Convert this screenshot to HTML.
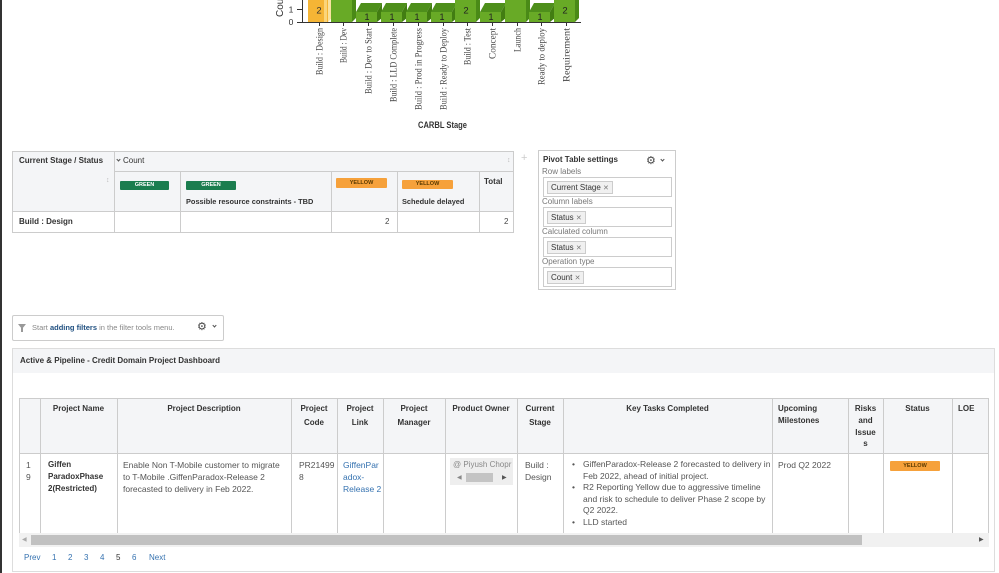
<!DOCTYPE html>
<html><head><meta charset="utf-8">
<style>
*{margin:0;padding:0;box-sizing:border-box}
html,body{width:999px;height:573px;overflow:hidden;background:#fff}
body{position:relative;font-family:"Liberation Sans",Arial,sans-serif;color:#333}
.a{position:absolute}
.t{position:absolute;white-space:nowrap;font-size:8px;line-height:10px}
.b{font-weight:bold}
.hl{position:absolute;height:1px;background:#ccc}
.vl{position:absolute;width:1px;background:#ccc}
.badge{position:absolute;font-size:5.5px;font-weight:bold;text-align:center;line-height:9px;border-radius:1px;font-family:"Liberation Sans",sans-serif}
.g{background:#1b7d4f;color:#fff}
.y{background:#f6a13b;color:#5a3a00}
.hd{position:absolute;font-size:8px;font-weight:bold;color:#333;text-align:center;line-height:13px;top:402px}
.bd{position:absolute;font-size:8.5px;color:#555;line-height:12px;top:459px;white-space:nowrap}
.chev{position:absolute;width:4px;height:4px;border-right:1px solid #555;border-bottom:1px solid #555;transform:rotate(45deg)}
.lbl{position:absolute;font-size:8px;color:#777;line-height:10px;white-space:nowrap}
.inp{position:absolute;left:543px;width:129px;height:20px;border:1px solid #ccc;background:#fff}
.tag{position:absolute;left:3px;top:3px;height:13px;border:1px solid #ccc;background:#f0f0f0;font-size:8px;line-height:11px;padding:0 3px;color:#333;white-space:nowrap}
.tag span{color:#777;font-size:7px}
.pg{position:absolute;top:553px;font-size:8px;line-height:10px;color:#3572b0}
</style></head><body>

<div class="a" style="left:0;top:0;width:2px;height:573px;background:#333"></div>

<svg class="a" style="left:0;top:0" width="999" height="140" xmlns="http://www.w3.org/2000/svg">
  <text transform="translate(283,17) rotate(-90)" font-family="Liberation Sans, sans-serif" font-size="10" fill="#333">Count</text>
  <text x="291" y="12.5" text-anchor="middle" font-family="Liberation Sans, sans-serif" font-size="8.5" fill="#333">1</text>
  <text x="291" y="25" text-anchor="middle" font-family="Liberation Sans, sans-serif" font-size="8.5" fill="#333">0</text>
  <line x1="297" y1="9.5" x2="302" y2="9.5" stroke="#333" stroke-width="1"/>
  <line x1="297" y1="22.5" x2="302" y2="22.5" stroke="#333" stroke-width="1"/>

  <rect x="308" y="0" width="20" height="22" fill="#f5b535"/>
  <rect x="324" y="0" width="3" height="22" fill="#fbd57a"/>
  <polygon points="328,0 331,0 331,19 328,22" fill="#f9e2a0"/>
  <text x="319" y="13.5" text-anchor="middle" font-family="Liberation Sans, sans-serif" font-size="9.5" fill="#333">2</text>
  <rect x="331" y="0" width="21" height="22" fill="#68aa26"/>
  <polygon points="352,0 356,0 356,18 352,22" fill="#4a8a17"/>
  <rect x="356" y="12" width="21" height="10" fill="#68aa26"/>
  <polygon points="356,12 377,12 382,3 361,3" fill="#4e8f1b"/>
  <polygon points="377,12 382,3 382,18 377,22" fill="#427d12"/>
  <text x="367" y="20" text-anchor="middle" font-family="Liberation Sans, sans-serif" font-size="9" fill="#222">1</text>
  <rect x="381" y="12" width="21" height="10" fill="#68aa26"/>
  <polygon points="381,12 402,12 407,3 386,3" fill="#4e8f1b"/>
  <polygon points="402,12 407,3 407,18 402,22" fill="#427d12"/>
  <text x="392" y="20" text-anchor="middle" font-family="Liberation Sans, sans-serif" font-size="9" fill="#222">1</text>
  <rect x="406" y="12" width="21" height="10" fill="#68aa26"/>
  <polygon points="406,12 427,12 432,3 411,3" fill="#4e8f1b"/>
  <polygon points="427,12 432,3 432,18 427,22" fill="#427d12"/>
  <text x="417" y="20" text-anchor="middle" font-family="Liberation Sans, sans-serif" font-size="9" fill="#222">1</text>
  <rect x="431" y="12" width="21" height="10" fill="#68aa26"/>
  <polygon points="431,12 452,12 457,3 436,3" fill="#4e8f1b"/>
  <polygon points="452,12 457,3 457,18 452,22" fill="#427d12"/>
  <text x="442" y="20" text-anchor="middle" font-family="Liberation Sans, sans-serif" font-size="9" fill="#222">1</text>
  <rect x="455" y="0" width="21" height="22" fill="#68aa26"/>
  <polygon points="476,0 480,0 480,18 476,22" fill="#4a8a17"/>
  <text x="466" y="13.5" text-anchor="middle" font-family="Liberation Sans, sans-serif" font-size="9.5" fill="#222">2</text>
  <rect x="480" y="12" width="21" height="10" fill="#68aa26"/>
  <polygon points="480,12 501,12 506,3 485,3" fill="#4e8f1b"/>
  <polygon points="501,12 506,3 506,18 501,22" fill="#427d12"/>
  <text x="491" y="20" text-anchor="middle" font-family="Liberation Sans, sans-serif" font-size="9" fill="#222">1</text>
  <rect x="505" y="0" width="21" height="22" fill="#68aa26"/>
  <polygon points="526,0 530,0 530,18 526,22" fill="#4a8a17"/>
  <rect x="529" y="12" width="21" height="10" fill="#68aa26"/>
  <polygon points="529,12 550,12 555,3 534,3" fill="#4e8f1b"/>
  <polygon points="550,12 555,3 555,18 550,22" fill="#427d12"/>
  <text x="540" y="20" text-anchor="middle" font-family="Liberation Sans, sans-serif" font-size="9" fill="#222">1</text>
  <rect x="554" y="0" width="21" height="22" fill="#68aa26"/>
  <polygon points="575,0 579,0 579,18 575,22" fill="#4a8a17"/>
  <text x="565" y="13.5" text-anchor="middle" font-family="Liberation Sans, sans-serif" font-size="9.5" fill="#222">2</text>

  <line x1="302.5" y1="0" x2="302.5" y2="23" stroke="#333" stroke-width="1"/>
  <line x1="302" y1="22.5" x2="581" y2="22.5" stroke="#333" stroke-width="1"/>
  <g stroke="#333" stroke-width="1">
    <line x1="319.5" y1="22" x2="319.5" y2="26"/>
    <line x1="343.5" y1="22" x2="343.5" y2="26"/>
    <line x1="368.5" y1="22" x2="368.5" y2="26"/>
    <line x1="393.5" y1="22" x2="393.5" y2="26"/>
    <line x1="418.5" y1="22" x2="418.5" y2="26"/>
    <line x1="443.5" y1="22" x2="443.5" y2="26"/>
    <line x1="467.5" y1="22" x2="467.5" y2="26"/>
    <line x1="492.5" y1="22" x2="492.5" y2="26"/>
    <line x1="517.5" y1="22" x2="517.5" y2="26"/>
    <line x1="541.5" y1="22" x2="541.5" y2="26"/>
    <line x1="566.5" y1="22" x2="566.5" y2="26"/>
  </g>
  <g font-family="Liberation Serif, serif" font-size="9" fill="#444" text-anchor="end">
    <text transform="translate(322.5,28) rotate(-90)" textLength="47" lengthAdjust="spacingAndGlyphs">Build : Design</text>
    <text transform="translate(346.5,28) rotate(-90)" textLength="35" lengthAdjust="spacingAndGlyphs">Build : Dev</text>
    <text transform="translate(371.5,28) rotate(-90)" textLength="66" lengthAdjust="spacingAndGlyphs">Build : Dev to Start</text>
    <text transform="translate(396.5,28) rotate(-90)" textLength="74" lengthAdjust="spacingAndGlyphs">Build : LLD Complete</text>
    <text transform="translate(421.5,28) rotate(-90)" textLength="82" lengthAdjust="spacingAndGlyphs">Build : Prod in Progress</text>
    <text transform="translate(446.5,28) rotate(-90)" textLength="82" lengthAdjust="spacingAndGlyphs">Build : Ready to Deploy</text>
    <text transform="translate(470.5,28) rotate(-90)" textLength="37" lengthAdjust="spacingAndGlyphs">Build : Test</text>
    <text transform="translate(495.5,28) rotate(-90)" textLength="31" lengthAdjust="spacingAndGlyphs">Concept</text>
    <text transform="translate(520.5,28) rotate(-90)" textLength="24" lengthAdjust="spacingAndGlyphs">Launch</text>
    <text transform="translate(544.5,28) rotate(-90)" textLength="57" lengthAdjust="spacingAndGlyphs">Ready to deploy</text>
    <text transform="translate(569.5,28) rotate(-90)" textLength="54" lengthAdjust="spacingAndGlyphs">Requirement</text>
  </g>
  <text x="418" y="128" font-family="Liberation Sans, sans-serif" font-size="9" font-weight="bold" fill="#333" textLength="49" lengthAdjust="spacingAndGlyphs">CARBL Stage</text>
</svg>

<div class="a" style="left:12px;top:151px;width:502px;height:82px;border:1px solid #ccc;background:#fff"></div>
<div class="a" style="left:13px;top:152px;width:500px;height:59px;background:#f4f5f7"></div>
<div class="hl" style="left:114px;top:171px;width:399px"></div>
<div class="hl" style="left:13px;top:211px;width:500px"></div>
<div class="vl" style="left:114px;top:152px;height:80px"></div>
<div class="vl" style="left:180px;top:171px;height:61px"></div>
<div class="vl" style="left:331px;top:171px;height:61px"></div>
<div class="vl" style="left:397px;top:171px;height:61px"></div>
<div class="vl" style="left:479px;top:171px;height:61px"></div>

<div class="t b" style="left:19px;top:156px;color:#333">Current Stage / Status</div>
<div class="chev" style="left:117px;top:158px;width:3px;height:3px"></div>
<div class="t" style="left:123px;top:156px;color:#333">Count</div>
<div class="t" style="left:507px;top:156px;color:#bbb;font-size:7px">↕</div>
<div class="t" style="left:106px;top:176px;color:#bbb;font-size:7px">↕</div>
<div class="badge g" style="left:120px;top:181px;width:49px;height:9px;line-height:9px">GREEN</div>
<div class="badge g" style="left:186px;top:181px;width:50px;height:9px;line-height:9px">GREEN</div>
<div class="badge y" style="left:336px;top:178px;width:51px;height:10px;line-height:10px">YELLOW</div>
<div class="badge y" style="left:402px;top:180px;width:51px;height:9px;line-height:9px">YELLOW</div>
<div class="t b" style="left:186px;top:197px;font-size:7.4px">Possible resource constraints - TBD</div>
<div class="t b" style="left:402px;top:197px;font-size:7.4px">Schedule delayed</div>
<div class="t b" style="left:484px;top:177px">Total</div>
<div class="t b" style="left:19px;top:217px">Build : Design</div>
<div class="t" style="left:385px;top:217px;color:#444">2</div>
<div class="t" style="left:504px;top:217px;color:#444">2</div>

<div class="t" style="left:521px;top:152px;color:#ccc;font-size:11px;line-height:12px">+</div>

<div class="a" style="left:538px;top:150px;width:138px;height:140px;border:1px solid #ccc;background:#fff"></div>
<div class="t b" style="left:543px;top:155px">Pivot Table settings</div>
<div class="t" style="left:646px;top:154px;font-size:11px;line-height:13px;color:#444;font-family:'DejaVu Sans',sans-serif">⚙</div>
<div class="chev" style="left:661px;top:158px;width:3px;height:3px"></div>
<div class="lbl" style="left:542px;top:167px">Row labels</div>
<div class="inp" style="top:177px"><div class="tag">Current Stage <span>✕</span></div></div>
<div class="lbl" style="left:542px;top:197px">Column labels</div>
<div class="inp" style="top:207px"><div class="tag">Status <span>✕</span></div></div>
<div class="lbl" style="left:542px;top:227px">Calculated column</div>
<div class="inp" style="top:237px"><div class="tag">Status <span>✕</span></div></div>
<div class="lbl" style="left:542px;top:257px">Operation type</div>
<div class="inp" style="top:267px"><div class="tag">Count <span>✕</span></div></div>

<div class="a" style="left:12px;top:315px;width:212px;height:26px;border:1px solid #ccc;border-radius:2px;background:#fff"></div>
<div class="a" style="left:18px;top:324px;width:0;height:0;border-left:4px solid transparent;border-right:4px solid transparent;border-top:5px solid #999"></div>
<div class="a" style="left:21px;top:328px;width:2px;height:4px;background:#999"></div>
<div class="t" style="left:32px;top:323px;font-size:7.5px;color:#888">Start <b style="color:#205081">adding filters</b> in the filter tools menu.</div>
<div class="t" style="left:197px;top:320px;font-size:11px;line-height:13px;color:#444;font-family:'DejaVu Sans',sans-serif">⚙</div>
<div class="chev" style="left:213px;top:324px;width:3px;height:3px"></div>

<div class="a" style="left:12px;top:348px;width:983px;height:224px;border:1px solid #ddd;background:#fff"></div>
<div class="a" style="left:13px;top:349px;width:981px;height:24px;background:#f4f5f7"></div>
<div class="t b" style="left:20px;top:356px">Active &amp; Pipeline - Credit Domain Project Dashboard</div>

<div class="a" style="left:19px;top:398px;width:970px;height:136px;border:1px solid #ccc;background:#fff"></div>
<div class="a" style="left:20px;top:399px;width:968px;height:54px;background:#f4f5f7"></div>
<div class="hl" style="left:20px;top:453px;width:968px"></div>
<div class="vl" style="left:40px;top:399px;height:134px"></div>
<div class="vl" style="left:117px;top:399px;height:134px"></div>
<div class="vl" style="left:291px;top:399px;height:134px"></div>
<div class="vl" style="left:337px;top:399px;height:134px"></div>
<div class="vl" style="left:383px;top:399px;height:134px"></div>
<div class="vl" style="left:445px;top:399px;height:134px"></div>
<div class="vl" style="left:517px;top:399px;height:134px"></div>
<div class="vl" style="left:563px;top:399px;height:134px"></div>
<div class="vl" style="left:772px;top:399px;height:134px"></div>
<div class="vl" style="left:848px;top:399px;height:134px"></div>
<div class="vl" style="left:883px;top:399px;height:134px"></div>
<div class="vl" style="left:952px;top:399px;height:134px"></div>

<div class="hd" style="left:40px;width:77px">Project Name</div>
<div class="hd" style="left:117px;width:174px">Project Description</div>
<div class="hd" style="left:291px;width:46px;line-height:14px">Project<br>Code</div>
<div class="hd" style="left:337px;width:46px;line-height:14px">Project<br>Link</div>
<div class="hd" style="left:383px;width:62px;line-height:14px">Project<br>Manager</div>
<div class="hd" style="left:445px;width:72px">Product Owner</div>
<div class="hd" style="left:517px;width:46px;line-height:14px">Current<br>Stage</div>
<div class="hd" style="left:563px;width:209px">Key Tasks Completed</div>
<div class="hd" style="left:778px;text-align:left;line-height:12px;top:403px">Upcoming<br>Milestones</div>
<div class="hd" style="left:848px;width:35px;line-height:11.8px;top:403px">Risks<br>and<br>Issue<br>s</div>
<div class="hd" style="left:883px;width:69px">Status</div>
<div class="hd" style="left:958px;text-align:left">LOE</div>

<div class="bd" style="left:26px">1<br>9</div>
<div class="bd b" style="left:48px;font-size:8px;color:#333">Giffen<br>ParadoxPhase<br>2(Restricted)</div>
<div class="bd" style="left:123px">Enable Non T-Mobile customer to migrate<br>to T-Mobile .GiffenParadox-Release 2<br>forecasted to delivery in Feb 2022.</div>
<div class="bd" style="left:299px">PR21499<br>8</div>
<div class="bd" style="left:343px;color:#3572b0">GiffenPar<br>adox-<br>Release 2</div>
<div class="a" style="left:450px;top:458px;width:63px;height:27px;background:#eeeeee"></div>
<div class="bd" style="left:453px;color:#888;font-size:8px">@ Piyush Chopr</div>
<div class="t" style="left:457px;top:473px;font-size:6px;color:#888">◀</div>
<div class="a" style="left:466px;top:473px;width:27px;height:9px;background:#c4c4c4"></div>
<div class="t" style="left:502px;top:473px;font-size:6px;color:#555">▶</div>
<div class="bd" style="left:525px">Build :<br>Design</div>
<div class="bd" style="left:572px;line-height:11.6px">•<br><br>•<br><br><br>•</div>
<div class="bd" style="left:583px;line-height:11.6px">GiffenParadox-Release 2 forecasted to delivery in<br>Feb 2022, ahead of initial project.<br>R2 Reporting Yellow due to aggressive timeline<br>and risk to schedule to deliver Phase 2 scope by<br>Q2 2022.<br>LLD started</div>
<div class="bd" style="left:778px">Prod Q2 2022</div>
<div class="badge y" style="left:890px;top:461px;width:50px;height:10px;line-height:10px">YELLOW</div>

<div class="a" style="left:19px;top:533px;width:970px;height:14px;background:#f1f1f1"></div>
<div class="a" style="left:31px;top:535px;width:831px;height:10px;background:#c1c1c1"></div>
<div class="t" style="left:22px;top:535px;font-size:6px;color:#aaa">◀</div>
<div class="t" style="left:979px;top:535px;font-size:6px;color:#555">▶</div>

<div class="pg" style="left:24px">Prev</div>
<div class="pg" style="left:52px">1</div>
<div class="pg" style="left:68px">2</div>
<div class="pg" style="left:84px">3</div>
<div class="pg" style="left:100px">4</div>
<div class="pg" style="left:116px;color:#333">5</div>
<div class="pg" style="left:132px">6</div>
<div class="pg" style="left:149px">Next</div>

</body></html>
